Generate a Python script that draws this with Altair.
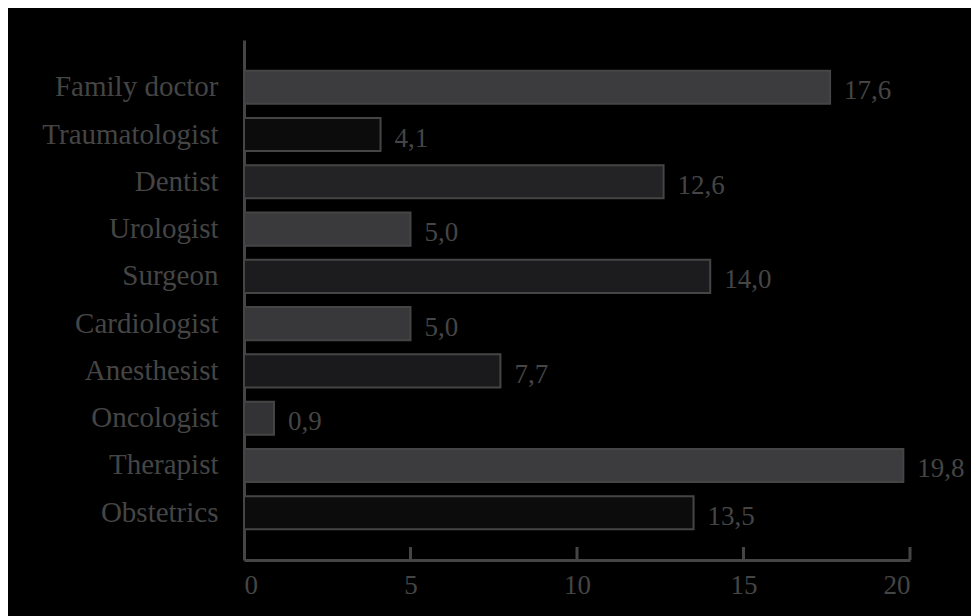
import altair as alt
import pandas as pd

categories = ["Family doctor", "Traumatologist", "Dentist", "Urologist", "Surgeon",
              "Cardiologist", "Anesthesist", "Oncologist", "Therapist", "Obstetrics"]
values = [17.6, 4.1, 12.6, 5.0, 14.0, 5.0, 7.7, 0.9, 19.8, 13.5]
x_ticks = [0, 5, 10, 15, 20]

fills = ["#3c3c3e", "#0c0c0c", "#232325", "#3a3a3c", "#1c1c1e",
         "#38383a", "#1a1a1c", "#333335", "#3c3c3e", "#0c0c0c"]

df = pd.DataFrame({"category": categories, "value": values})
ticks_df = pd.DataFrame({"t": x_ticks[1:]})

W, H = 666, 520
FONT = "Liberation Serif"
GRAY = "#454545"
LINE = "#454545"

x_scale = alt.Scale(domain=[0, 20], nice=False)
x_axis = alt.Axis(title=None, values=x_ticks, ticks=False, grid=False,
                  domainColor=LINE, domainWidth=3, labelFont=FONT,
                  labelFontSize=27, labelColor=GRAY, labelPadding=12, format="d")
y_scale = alt.Scale(paddingInner=0.3, paddingOuter=0.65)
y_axis = alt.Axis(title=None, ticks=False, grid=False, domainColor=LINE,
                  domainWidth=3, labelFont=FONT, labelFontSize=29,
                  labelColor=GRAY, labelPadding=26, labelLimit=400)

y_enc = alt.Y("category:N", sort=categories, scale=y_scale, axis=y_axis)

bars = alt.Chart(df).mark_bar(stroke=LINE, strokeWidth=2).encode(
    x=alt.X("value:Q", scale=x_scale, axis=x_axis),
    y=y_enc,
    color=alt.Color("category:N", scale=alt.Scale(domain=categories, range=fills),
                    legend=None),
)

labels = alt.Chart(df).transform_calculate(
    label="replace(format(datum.value, '.1f'), '.', ',')"
).mark_text(align="left", baseline="middle", dx=14, dy=4, font=FONT,
            fontSize=27, color=GRAY).encode(
    x=alt.X("value:Q", scale=x_scale, axis=x_axis),
    y=y_enc,
    text="label:N",
)

tick_rules = alt.Chart(ticks_df).mark_rule(color=LINE, strokeWidth=3).encode(
    x=alt.X("t:Q", scale=x_scale, axis=x_axis),
    y=alt.value(H - 13),
    y2=alt.value(H),
)

chart = alt.layer(bars, labels, tick_rules).properties(
    width=W, height=H,
    padding={"left": 236, "top": 32, "right": 61, "bottom": 56},
    autosize=alt.AutoSizeParams(type="none"),
    background="black",
).configure_view(stroke=None)

chart.save("out.html", embed_options={"renderer": "svg", "actions": False})
